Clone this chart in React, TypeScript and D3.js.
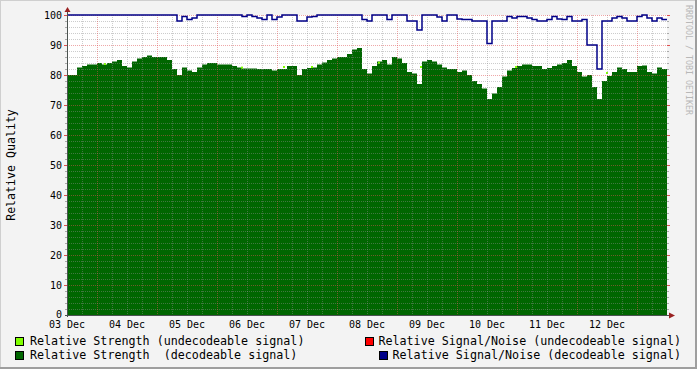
import React, { useEffect, useRef } from 'react';
import * as d3 from 'd3';

// one value every 2 hours, starting 03 Dec 00:00
const strength = [
  80, 80, 82.5, 83, 83.5, 83.5, 84, 83.5, 84, 84.5,
  85, 83, 82.5, 84.5, 85.5, 86, 86.5, 86, 86, 86,
  85, 82, 80, 82.5, 81.5, 81, 82.5, 83.5, 84, 84,
  83.5, 83.5, 83.5, 83, 82.5, 82.2, 82.2, 82.2, 82, 82,
  82, 81.5, 82, 82, 83, 83, 80, 82, 82.3, 82.5,
  83.5, 84.2, 85, 85.5, 86, 86, 87, 88.5, 89, 82,
  80.5, 83, 84.5, 85, 83.5, 86, 85.5, 84, 81, 80.5,
  77, 84.5, 85, 84.5, 83.5, 82.5, 82, 82, 81, 81.5,
  80, 78, 77, 75.5, 72, 73.8, 76, 79.5, 81.5, 82.3,
  83, 83.5, 83.5, 83, 83, 82, 82.3, 83, 83.5, 84,
  85, 83, 81, 79.5, 80, 76, 72, 78, 79.7, 81,
  82.5, 82, 81, 81, 83, 83.2, 81, 80.5, 82.5, 82,
];

const signalNoise = [
  100, 100, 100, 100, 100, 100, 100, 100, 100, 100,
  100, 100, 100, 100, 100, 100, 100, 100, 100, 100,
  100, 100, 98, 99.5, 98.5, 99, 100, 100, 100, 100,
  100, 100, 100, 100, 100, 99.5, 100, 99.5, 99, 98.5,
  100, 98.5, 99.3, 100, 100, 100, 98, 98, 99.3, 99.5,
  100, 100, 100, 100, 100, 100, 100, 100, 100, 98.5,
  98, 100, 100, 100, 98.5, 100, 100, 100, 98, 98,
  95, 100, 100, 100, 99.3, 98, 100, 100, 98.7, 98.5,
  98.5, 98, 98, 98, 90.5, 98, 98, 98, 99.5, 99,
  99.5, 99.5, 99, 98.5, 98, 98, 98.5, 99.5, 98.7, 98.5,
  99.5, 98, 98, 98.5, 90, 90, 82, 98, 98, 99,
  99.5, 99, 98, 98, 99.5, 100, 99, 98, 99, 98.5,
];

// [hours since start, value] of undecodeable strength readings
const undecodeable = [
  [14.8, 84], [69.6, 82.8], [86.4, 83], [97.6, 83],
  [124.4, 84.4], [141.2, 83], [179.2, 83], [215.6, 81],
];

const dayLabels = ['03 Dec', '04 Dec', '05 Dec', '06 Dec', '07 Dec', '08 Dec', '09 Dec', '10 Dec', '11 Dec', '12 Dec'];
const yTicks = [0, 10, 20, 30, 40, 50, 60, 70, 80, 90, 100];

const legendLeft = [
  { color: '#80ff00', label: 'Relative Strength (undecodeable signal)' },
  { color: '#006600', label: 'Relative Strength  (decodeable signal)' },
];
const legendRight = [
  { color: '#ff0000', label: 'Relative Signal/Noise (undecodeable signal)' },
  { color: '#000088', label: 'Relative Signal/Noise (decodeable signal)' },
];

const START = new Date(2008, 11, 3);
const END = d3.timeDay.offset(START, 10);
const STEP_H = 2;

const App = () => {
  const svgRef = useRef(null);

  useEffect(() => {
    const W = 697, H = 369;
    const left = 67, right = 667, top = 15, bottom = 315;
    const font = '"DejaVu Sans Mono", monospace';

    const svg = d3.select(svgRef.current);
    svg.selectAll('*').remove();
    svg.attr('width', W).attr('height', H);

    // background + 3d frame
    svg.append('rect').attr('width', W).attr('height', H).attr('fill', '#f3f3f3');
    svg.append('path').attr('d', `M0,${H} V0 H${W}`).attr('stroke', '#cfcfcf').attr('stroke-width', 2).attr('fill', 'none');
    svg.append('path').attr('d', `M0,${H - 1} H${W - 1} V0`).attr('stroke', '#9e9e9e').attr('stroke-width', 2).attr('fill', 'none');

    const x = d3.scaleTime().domain([START, END]).range([left, right]);
    const y = d3.scaleLinear().domain([0, 100]).range([bottom, top]);

    svg.append('rect').attr('x', left).attr('y', top).attr('width', right - left).attr('height', bottom - top).attr('fill', '#ffffff');

    const tAt = (i) => d3.timeHour.offset(START, i * STEP_H);
    const withEnd = (arr) => arr.map((v, i) => [tAt(i), v]).concat([[END, arr[arr.length - 1]]]);

    // strength area
    const area = d3.area()
      .x(d => x(d[0]))
      .y0(y(0))
      .y1(d => y(d[1]))
      .curve(d3.curveStepAfter);
    svg.append('path').datum(withEnd(strength)).attr('d', area).attr('fill', '#006600');

    // undecodeable bits
    svg.selectAll('.undec')
      .data(undecodeable)
      .enter().append('rect')
      .attr('x', d => x(d3.timeMinute.offset(START, d[0] * 60)))
      .attr('y', d => y(d[1]))
      .attr('width', 2)
      .attr('height', 2)
      .attr('fill', '#80ff00');

    // grid
    const grid = svg.append('g');
    for (let v = 2; v < 100; v += 2) {
      if (v % 10 === 0) continue;
      grid.append('line').attr('x1', left).attr('x2', right).attr('y1', y(v) + 0.5).attr('y2', y(v) + 0.5)
        .attr('stroke', '#8f8f8f').attr('stroke-opacity', 0.45).attr('stroke-dasharray', '1,1');
      grid.append('line').attr('x1', left - 2).attr('x2', left).attr('y1', y(v) + 0.5).attr('y2', y(v) + 0.5).attr('stroke', '#aaaaaa');
      grid.append('line').attr('x1', right).attr('x2', right + 2).attr('y1', y(v) + 0.5).attr('y2', y(v) + 0.5).attr('stroke', '#aaaaaa');
    }
    const sixHours = d3.timeHour.every(6).range(START, END);
    sixHours.forEach(t => {
      if (t.getHours() === 12 || +t === +START) return;
      grid.append('line').attr('x1', x(t) + 0.5).attr('x2', x(t) + 0.5).attr('y1', top).attr('y2', bottom)
        .attr('stroke', '#8f8f8f').attr('stroke-opacity', 0.45).attr('stroke-dasharray', '1,1');
    });
    yTicks.forEach(v => {
      if (v === 0) return;
      grid.append('line').attr('x1', left).attr('x2', right).attr('y1', y(v) + 0.5).attr('y2', y(v) + 0.5)
        .attr('stroke', '#de5050').attr('stroke-opacity', 0.5).attr('stroke-dasharray', '1,1');
      grid.append('line').attr('x1', left - 3).attr('x2', left).attr('y1', y(v) + 0.5).attr('y2', y(v) + 0.5).attr('stroke', '#de5050');
      grid.append('line').attr('x1', right).attr('x2', right + 3).attr('y1', y(v) + 0.5).attr('y2', y(v) + 0.5).attr('stroke', '#de5050');
    });
    sixHours.filter(t => t.getHours() === 12).forEach(t => {
      grid.append('line').attr('x1', x(t) + 0.5).attr('x2', x(t) + 0.5).attr('y1', top).attr('y2', bottom + 2)
        .attr('stroke', '#de5050').attr('stroke-opacity', 0.5).attr('stroke-dasharray', '1,1');
    });

    // signal/noise line
    const line = d3.line()
      .x(d => x(d[0]))
      .y(d => y(d[1]))
      .curve(d3.curveStepAfter);
    svg.append('path').datum(withEnd(signalNoise)).attr('d', line)
      .attr('fill', 'none').attr('stroke', '#000088').attr('stroke-width', 1.5);

    // axes + arrows
    svg.append('line').attr('x1', left + 0.5).attr('x2', left + 0.5).attr('y1', bottom + 2).attr('y2', 9).attr('stroke', '#4a524f');
    svg.append('line').attr('x1', left - 2).attr('x2', right + 4).attr('y1', bottom + 0.5).attr('y2', bottom + 0.5).attr('stroke', '#4a524f');
    svg.append('path').attr('d', `M${left + 0.5},7 L${left + 3.5},12 L${left - 2.5},12 Z`).attr('fill', '#992222');
    svg.append('path').attr('d', `M${right + 8},${bottom + 0.5} L${right + 2},${bottom - 2.5} L${right + 2},${bottom + 3.5} Z`).attr('fill', '#992222');

    // y labels
    svg.selectAll('.ylab')
      .data(yTicks)
      .enter().append('text')
      .attr('x', 62)
      .attr('y', d => y(d) + (d === 0 ? 3 : 4))
      .attr('text-anchor', 'end')
      .style('font-family', font).style('font-size', '10px')
      .text(d => d);

    // x labels
    svg.selectAll('.xlab')
      .data(dayLabels)
      .enter().append('text')
      .attr('x', (d, i) => x(d3.timeDay.offset(START, i)))
      .attr('y', 328)
      .attr('text-anchor', 'middle')
      .style('font-family', font).style('font-size', '10px')
      .text(d => d);

    // axis title
    svg.append('text')
      .attr('transform', `translate(15,165) rotate(-90)`)
      .attr('text-anchor', 'middle')
      .style('font-family', font).style('font-size', '11.6px')
      .text('Relative Quality');

    svg.append('text')
      .attr('transform', `translate(686,5) rotate(90)`)
      .attr('text-anchor', 'start')
      .attr('fill', '#b8b8b8')
      .style('font-family', font).style('font-size', '8.3px')
      .text('RRDTOOL / TOBI OETIKER');

    // legend
    const legRow = (g, items, xs, textX, anchorEnd) => {
      items.forEach((it, i) => {
        const ly = 337 + i * 14;
        g.append('rect').attr('x', xs[i] + 0.5).attr('y', ly + 0.5).attr('width', 8).attr('height', 8)
          .attr('fill', it.color).attr('stroke', '#000').attr('stroke-width', 1);
        g.append('text')
          .attr('x', anchorEnd ? textX : xs[i] + 15)
          .attr('y', ly + 8)
          .attr('text-anchor', anchorEnd ? 'end' : 'start')
          .attr('xml:space', 'preserve')
          .style('white-space', 'pre')
          .style('font-family', font).style('font-size', '11.7px')
          .text(it.label);
      });
    };
    const lg = svg.append('g');
    legRow(lg, legendLeft, [15, 15], 0, false);
    legRow(lg, legendRight, [365, 379], 681, true);
  }, []);

  return <svg ref={svgRef} style={{ position: 'absolute', left: 0, top: 0, display: 'block' }}></svg>;
};

export default App;
